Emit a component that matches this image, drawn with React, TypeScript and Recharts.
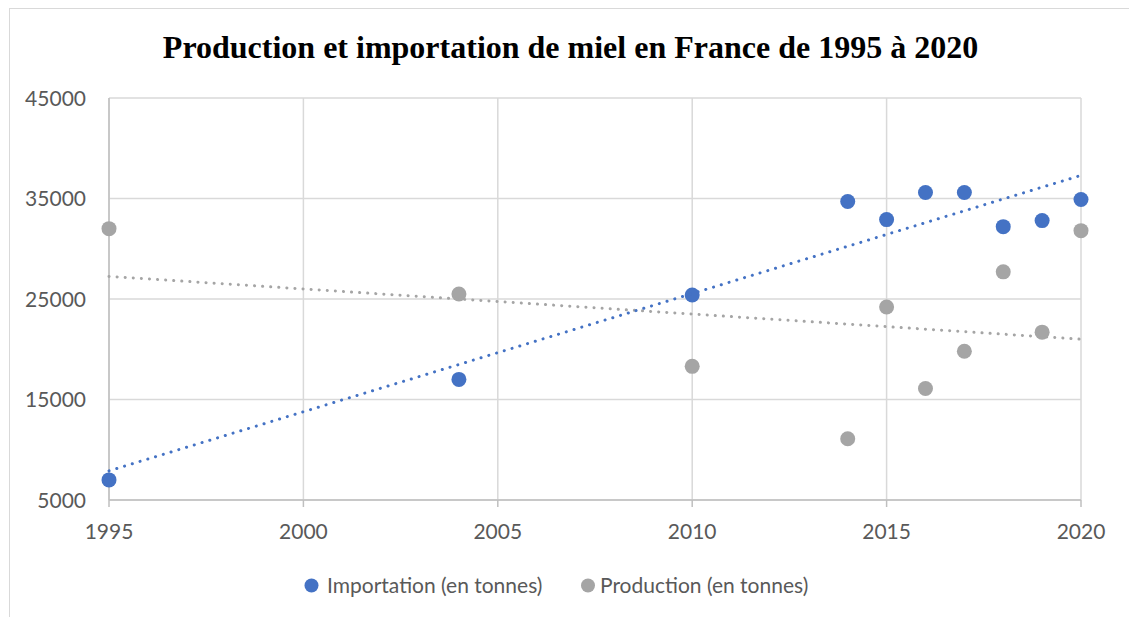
import React from "react";
import { ScatterChart, Scatter, XAxis, YAxis, CartesianGrid } from "recharts";

const years = [1995, 2004, 2010, 2014, 2015, 2016, 2017, 2018, 2019, 2020];
const importation = [7000, 17000, 25400, 34700, 32900, 35600, 35600, 32200, 32800, 34900];
const production = [32000, 25500, 18300, 11100, 24200, 16100, 19800, 27700, 21700, 31800];

const trendYears = [1995, 2020];
const trendImportation = [7900, 37300];
const trendProduction = [27250, 21000];

const xTicks = [1995, 2000, 2005, 2010, 2015, 2020];
const yTicks = [5000, 15000, 25000, 35000, 45000];

const title = "Production et importation de miel en France de 1995 à 2020";
const seriesNames = ["Importation (en tonnes)", "Production (en tonnes)"];

const BLUE = "#4472C4";
const GRAY = "#A5A5A5";
const LABEL_FONT = "Lato, 'Open Sans', sans-serif";
const LABEL_SIZE = 21;

const importData = years.map((x, i) => ({ x, y: importation[i] }));
const productionData = years.map((x, i) => ({ x, y: production[i] }));
const trendImportData = trendYears.map((x, i) => ({ x, y: trendImportation[i] }));
const trendProductionData = trendYears.map((x, i) => ({ x, y: trendProduction[i] }));

const dot = (color: string) => (props: any) => (
  <circle cx={props.cx} cy={props.cy} r={7.5} fill={color} />
);
const noDot = () => <g />;

const XTick = (props: any) => (
  <text x={props.x} y={props.y} dy={32} textAnchor="middle" fill="#595959" fontSize={LABEL_SIZE} fontFamily={LABEL_FONT}>
    {props.payload.value}
  </text>
);
const YTick = (props: any) => (
  <text x={props.x} y={props.y} dx={-23} dy={7.5} textAnchor="end" fill="#595959" fontSize={LABEL_SIZE} fontFamily={LABEL_FONT}>
    {props.payload.value}
  </text>
);

export default function App() {
  return (
    <div style={{ position: "relative", width: 1129, height: 617, overflow: "hidden", background: "#fff" }}>
      <style>{`html,body{margin:0;padding:0;overflow:hidden;background:#fff}`}</style>
      <div
        style={{
          position: "absolute",
          left: 9,
          top: 8,
          width: 1300,
          height: 800,
          borderLeft: "1px solid #d9d9d9",
          borderTop: "1px solid #d9d9d9",
        }}
      />
      <div style={{ position: "absolute", left: 0, top: 0 }}>
        <ScatterChart width={1129} height={617} margin={{ top: 98, right: 48, bottom: 77, left: 0 }}>
          <CartesianGrid stroke="#d9d9d9" strokeWidth={1.5} />
          <XAxis
            type="number"
            dataKey="x"
            domain={[1995, 2020]}
            ticks={xTicks}
            height={40}
            tickSize={7}
            tickMargin={0}
            axisLine={{ stroke: "#bfbfbf", strokeWidth: 1.5 }}
            tickLine={{ stroke: "#bfbfbf", strokeWidth: 1.5 }}
            tick={<XTick />}
          />
          <YAxis
            type="number"
            dataKey="y"
            domain={[5000, 45000]}
            ticks={yTicks}
            width={109}
            tickSize={0}
            tickMargin={0}
            axisLine={{ stroke: "#bfbfbf", strokeWidth: 1.5 }}
            tickLine={false}
            tick={<YTick />}
          />
          <Scatter data={productionData} fill={GRAY} shape={dot(GRAY)} isAnimationActive={false} />
          <Scatter data={importData} fill={BLUE} shape={dot(BLUE)} isAnimationActive={false} />
          <Scatter
            data={trendProductionData}
            shape={noDot}
            line={{ stroke: GRAY, strokeWidth: 3, strokeDasharray: "0.1 8", strokeLinecap: "round" } as any}
            isAnimationActive={false}
          />
          <Scatter
            data={trendImportData}
            shape={noDot}
            line={{ stroke: BLUE, strokeWidth: 3, strokeDasharray: "0.1 8", strokeLinecap: "round" } as any}
            isAnimationActive={false}
          />
        </ScatterChart>
      </div>
      <svg width={1129} height={617} style={{ position: "absolute", left: 0, top: 0, pointerEvents: "none" }}>
        <text
          x={570.5}
          y={58}
          textAnchor="middle"
          fontFamily="'Liberation Serif', 'Times New Roman', serif"
          fontWeight="bold"
          fontSize={32}
          fill="#000"
        >
          {title}
        </text>
        <circle cx={311.5} cy={585.5} r={7} fill={BLUE} />
        <text x={327} y={593.3} fontFamily={LABEL_FONT} fontSize={LABEL_SIZE} fill="#595959">
          {seriesNames[0]}
        </text>
        <circle cx={588} cy={585.5} r={7} fill={GRAY} />
        <text x={600} y={593.3} fontFamily={LABEL_FONT} fontSize={LABEL_SIZE} fill="#595959">
          {seriesNames[1]}
        </text>
      </svg>
    </div>
  );
}
